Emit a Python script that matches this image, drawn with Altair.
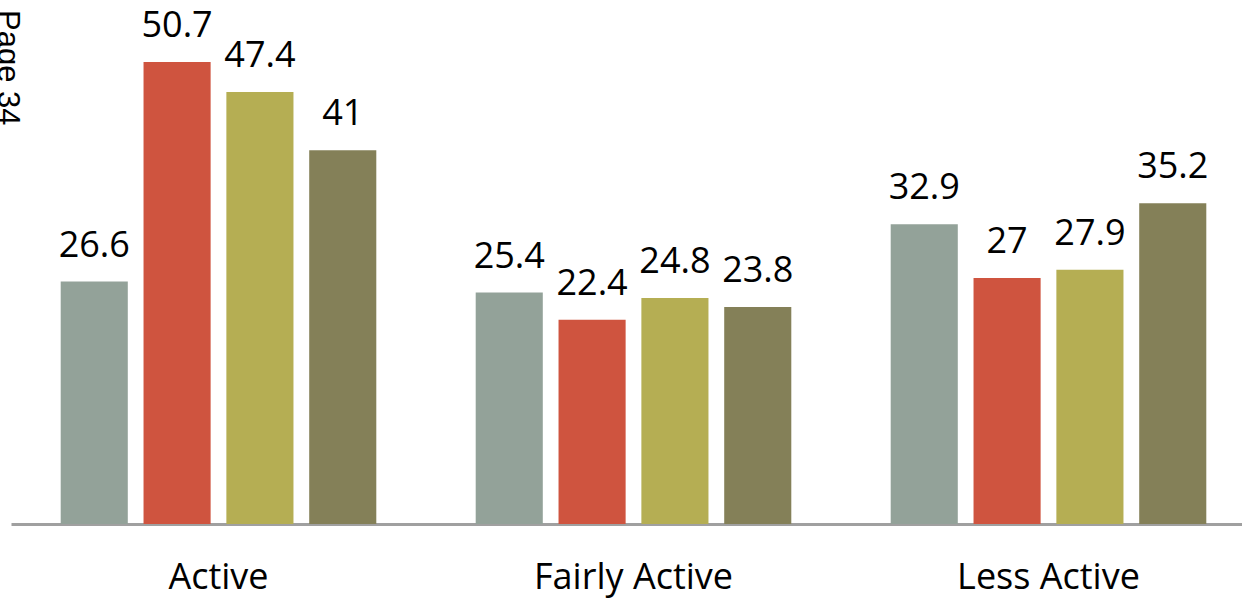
import altair as alt
import pandas as pd

categories = ["Active", "Fairly Active", "Less Active"]
series = ["S1", "S2", "S3", "S4"]
values = {
    "S1": [26.6, 25.4, 32.9],
    "S2": [50.7, 22.4, 27.0],
    "S3": [47.4, 24.8, 27.9],
    "S4": [41.0, 23.8, 35.2],
}
colors = ["#93A299", "#CF543F", "#B5AE53", "#848058"]
page_text = ["Page 34"]

rows = []
for s in series:
    for c, v in zip(categories, values[s]):
        rows.append({"category": c, "series": s, "value": v, "label": f"{v:g}"})
df = pd.DataFrame(rows)

FONT = "Open Sans"

x_enc = alt.X(
    "category:N",
    sort=categories,
    scale=alt.Scale(range=[0, 1245], paddingInner=0, paddingOuter=0),
    axis=alt.Axis(
        title=None, ticks=False, labelAngle=0, labelFont=FONT, labelFontSize=36,
        labelColor="#000000", labelPadding=64, labelBaseline="alphabetic",
        labelLimit=0, labelOverlap=False,
        domainColor="#A0A0A0", domainWidth=3, grid=False,
    ),
)
xoff = alt.XOffset("series:N", sort=series,
                   scale=alt.Scale(paddingInner=0.19, paddingOuter=0.6))
y_enc = alt.Y("value:Q", scale=alt.Scale(domain=[0, 57.5], nice=False, zero=True),
              axis=None)

bars = alt.Chart(df).mark_bar().encode(
    x=x_enc, xOffset=xoff, y=y_enc,
    color=alt.Color("series:N", sort=series,
                    scale=alt.Scale(domain=series, range=colors), legend=None),
)
labels = alt.Chart(df).mark_text(
    font=FONT, fontSize=36, color="#000000", dy=-25, baseline="alphabetic", align="center"
).encode(x=x_enc, xOffset=xoff, y=y_enc, text="label:N")

page = alt.Chart(pd.DataFrame({"t": page_text})).mark_text(
    font="Liberation Sans", fontSize=31, angle=90, align="left",
    baseline="alphabetic", color="#000000",
).encode(x=alt.value(-13), y=alt.value(10), text="t:N")

chart = alt.layer(bars, labels, page).properties(
    width=1231, height=524,
    autosize=alt.AutoSizeParams(type="none"),
    padding={"left": 11, "top": 0, "right": 0, "bottom": 74},
).configure_view(stroke=None)

chart.save("out.html", embed_options={"renderer": "svg", "actions": False})
